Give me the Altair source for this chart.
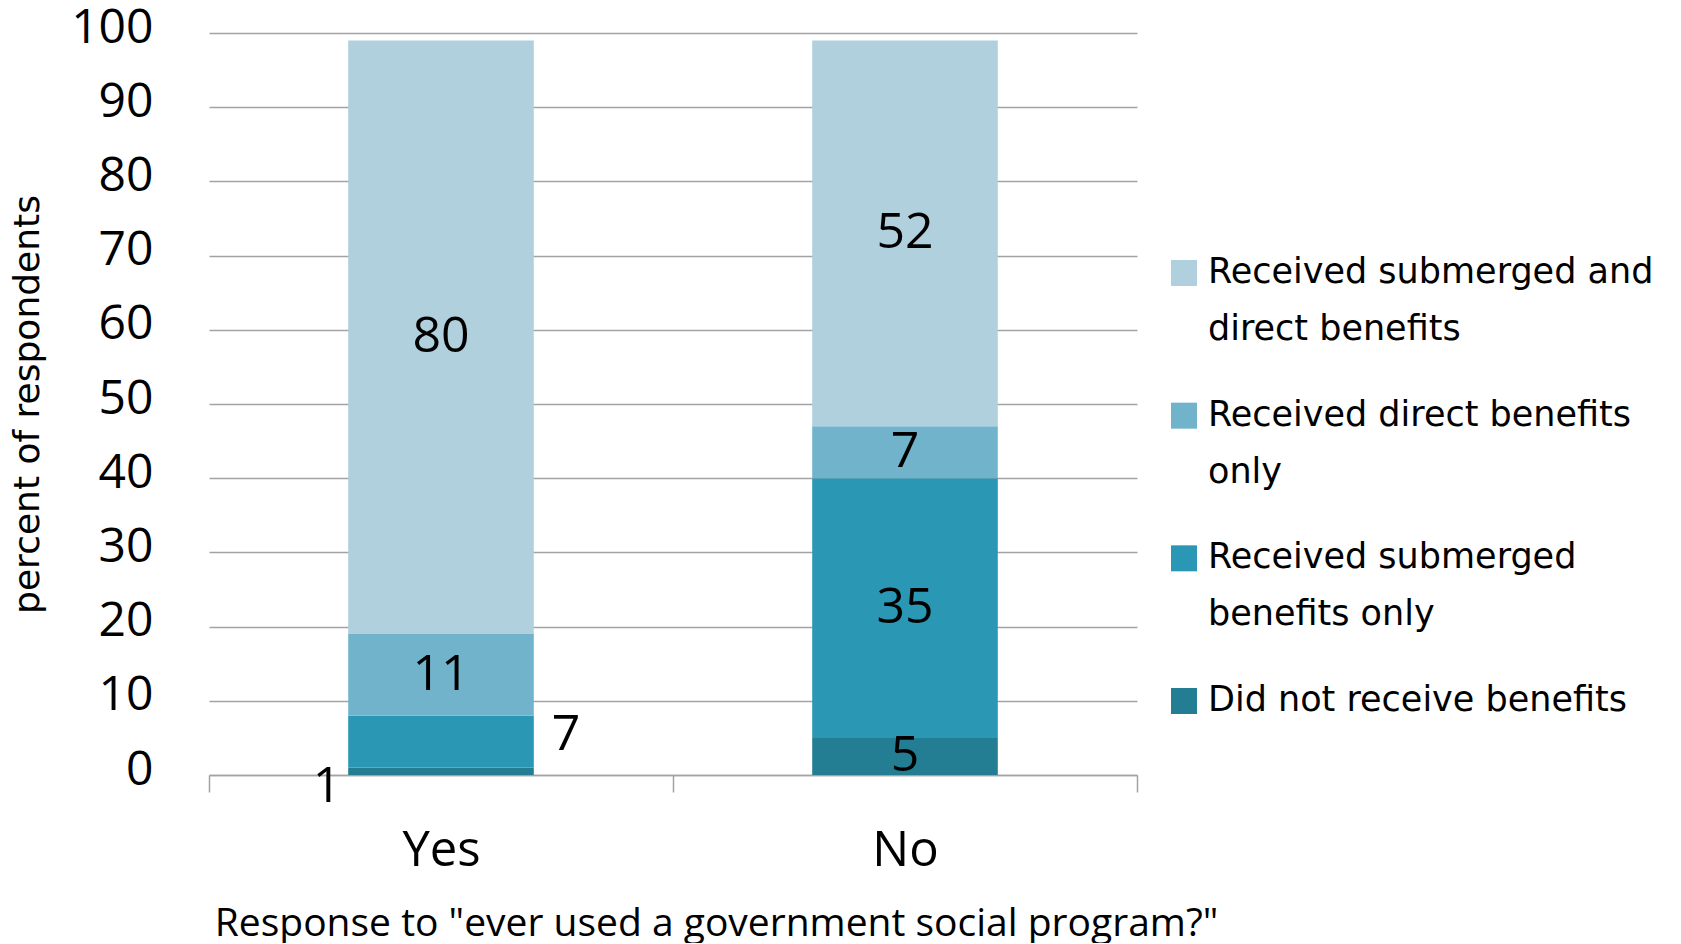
import altair as alt
import pandas as pd

responses = ["Yes", "No"]
categories = [
    "Did not receive benefits",
    "Received submerged benefits only",
    "Received direct benefits only",
    "Received submerged and direct benefits",
]
legend_text = [
    "Did not receive benefits",
    "Received submerged\nbenefits only",
    "Received direct benefits\nonly",
    "Received submerged and\ndirect benefits",
]
yes_values = [1, 7, 11, 80]
no_values = [5, 35, 7, 52]
colors = ["#237E93", "#2A98B5", "#72B3CC", "#B0D0DD"]
y_ticks = [0, 10, 20, 30, 40, 50, 60, 70, 80, 90, 100]

rows = []
for resp, vals in zip(responses, [yes_values, no_values]):
    for rank, (cat, v) in enumerate(zip(categories, vals)):
        rows.append({"response": resp, "category": cat, "rank": rank, "value": v})
df = pd.DataFrame(rows)

color_scale = alt.Scale(domain=categories, range=colors)
GRAY = "#A3A3A3"

x_enc = alt.X(
    "response:N",
    sort=responses,
    scale=alt.Scale(paddingInner=0, paddingOuter=0),
    axis=alt.Axis(
        title='Response to "ever used a government social program?"',
        labelAngle=0,
        labelFont="Open Sans",
        labelFontSize=49,
        labelColor="black",
        labelPadding=34,
        tickBand="extent",
        tickSize=17,
        tickColor=GRAY,
        tickWidth=1.5,
        domainColor=GRAY,
        domainWidth=1.5,
        grid=False,
        titleFont="Open Sans",
        titleFontSize=39,
        titleFontWeight="normal",
        titleColor="black",
        titleX=507,
        titleY=160,
        titleAlign="center",
        titleBaseline="alphabetic",
    ),
)

y_axis = alt.Axis(
    values=y_ticks,
    title="percent of respondents",
    domain=False,
    ticks=False,
    labelFont="Open Sans",
    labelFontSize=48,
    labelColor="black",
    labelPadding=56,
    labelOffset=-5,
    grid=True,
    gridColor=GRAY,
    gridWidth=1.5,
    titleFont="DejaVu Sans",
    titleFontSize=36,
    titleFontWeight="normal",
    titleColor="black",
    titleX=-171,
    titleY=371,
    titleBaseline="alphabetic",
)
y_scale = alt.Scale(domain=[0, 100], nice=False)

base = alt.Chart(df).transform_stack(
    stack="value",
    groupby=["response"],
    as_=["y0", "y1"],
    sort=[alt.SortField("rank", order="ascending")],
).transform_calculate(mid="(datum.y0 + datum.y1) / 2")

bars = base.mark_bar(width=alt.RelativeBandSize(0.4)).encode(
    x=x_enc,
    y=alt.Y("y0:Q", scale=y_scale, axis=y_axis),
    y2="y1:Q",
    color=alt.Color("category:N", scale=color_scale, legend=None),
)

text_style = dict(font="Open Sans", fontSize=50, color="black", baseline="middle", align="center")

text_center = base.transform_filter(
    "!(datum.response == 'Yes' && datum.rank <= 1)"
).mark_text(**text_style).encode(
    x=x_enc, y=alt.Y("mid:Q", scale=y_scale, axis=y_axis), text="value:Q"
)
text_right = base.transform_filter(
    "datum.response == 'Yes' && datum.rank == 1"
).mark_text(dx=125, dy=-7, **text_style).encode(
    x=x_enc, y=alt.Y("mid:Q", scale=y_scale, axis=y_axis), text="value:Q"
)
text_left = base.transform_filter(
    "datum.response == 'Yes' && datum.rank == 0"
).mark_text(dx=-114, dy=16, **text_style).encode(
    x=x_enc, y=alt.Y("mid:Q", scale=y_scale, axis=y_axis), text="value:Q"
)

main = alt.layer(bars, text_center, text_right, text_left).properties(width=928, height=742)

leg_df = pd.DataFrame({"category": categories, "label": legend_text})
leg_y = alt.Y(
    "category:N",
    sort=categories[::-1],
    scale=alt.Scale(range=[240, 668], padding=0),
    axis=None,
)
swatch = alt.Chart(leg_df).mark_square(size=676, opacity=1).encode(
    x=alt.value(27),
    y=leg_y,
    color=alt.Color("category:N", scale=color_scale, legend=None),
)
leg_labels = alt.Chart(leg_df).mark_text(
    align="left",
    baseline="alphabetic",
    dy=10,
    lineBreak="\n",
    lineHeight=57,
    font="DejaVu Sans",
    fontSize=35,
    color="black",
).encode(x=alt.value(51), y=leg_y, text="label:N")

legend = alt.layer(swatch, leg_labels).properties(width=480, height=742)

chart = (
    alt.hconcat(main, legend, spacing=20, bounds="flush")
    .properties(
        padding={"left": 9, "top": 4, "right": 0, "bottom": 0},
        background="white",
    )
    .configure_view(strokeWidth=0, stroke="transparent")
)

chart.save("out.html", embed_options={"renderer": "svg", "actions": False})
